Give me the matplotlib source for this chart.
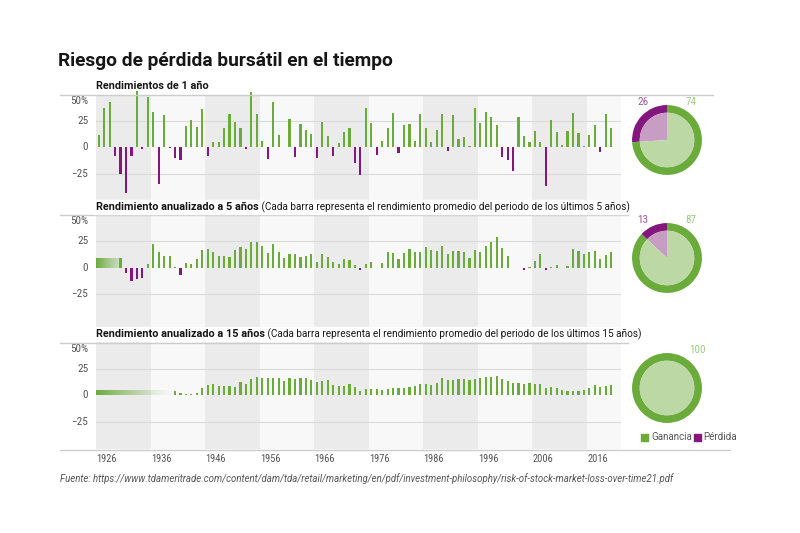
import numpy as np
import matplotlib
matplotlib.use("Agg")
import matplotlib.pyplot as plt
import matplotlib.transforms as mtransforms
from matplotlib import font_manager
from matplotlib.lines import Line2D
from matplotlib.patches import Rectangle
from matplotlib.colors import to_rgb

# data (S&P 500)
years = list(range(1926, 2021))

ret_1y = [11.6, 37.5, 43.6, -8.4, -24.9, -43.3, -8.2, 54.0, -1.4, 47.7,
          33.9, -35.0, 31.1, -0.4, -9.8, -11.6, 20.3, 25.9, 19.8, 36.4,
          -8.1, 5.7, 5.5, 18.8, 31.7, 24.0, 18.4, -1.0, 52.6, 31.6,
          6.6, -10.8, 43.4, 12.0, 0.5, 26.9, -8.7, 22.8, 16.5, 12.5,
          -10.1, 24.0, 11.1, -8.5, 4.0, 14.3, 19.0, -14.7, -26.5, 37.2,
          23.8, -7.2, 6.6, 18.4, 32.4, -4.9, 21.4, 22.5, 6.3, 32.2,
          18.5, 5.2, 16.8, 31.5, -3.1, 30.5, 7.7, 10.0, 1.3, 37.6,
          23.0, 33.4, 28.6, 21.0, -9.1, -11.9, -22.1, 28.7, 10.9, 4.9,
          15.8, 5.5, -37.0, 26.5, 15.1, 2.1, 16.0, 32.4, 13.7, 1.4,
          12.0, 21.8, -4.4, 31.5, 18.4]

# 5-year annualized, first value is 1930
ret_5y = [8.9, -5.1, -12.5, -11.2, -9.9, 3.1, 22.5, 14.3, 10.7, 10.9,
          0.5, -7.5, 4.6, 3.8, 7.7, 16.9, 17.9, 14.9, 10.9, 10.7,
          9.9, 16.7, 19.4, 17.9, 23.9, 23.9, 20.2, 13.6, 22.3, 15.0,
          8.9, 12.8, 13.3, 9.9, 10.7, 13.3, 5.7, 12.4, 10.2, 5.0,
          3.3, 8.4, 7.5, 2.0, -2.4, 3.2, 4.9, -0.2, 4.3, 14.8,
          13.9, 8.1, 14.1, 17.3, 14.8, 14.7, 19.9, 16.5, 15.4, 20.4,
          13.2, 15.4, 15.9, 14.5, 8.7, 16.6, 15.2, 20.3, 24.1, 28.6,
          18.3, 10.7, -0.6, -0.6, -2.3, 0.5, 6.2, 12.8, -2.2, 0.4,
          2.3, -0.3, 1.7, 17.9, 15.5, 12.6, 14.7, 15.8, 8.5, 11.7,
          15.2]

# 15-year annualized, first value is 1940
ret_15y = [4.0, 2.2, 1.6, 1.0, 2.2, 6.9, 10.3, 10.9, 8.7, 9.3,
           8.7, 8.4, 13.0, 10.9, 15.6, 17.8, 16.5, 16.2, 17.1, 16.5,
           14.0, 16.5, 15.6, 16.5, 16.2, 15.0, 13.1, 13.4, 14.3, 10.0,
           8.7, 9.0, 11.2, 8.4, 4.4, 6.5, 6.5, 6.5, 5.6, 6.2,
           6.9, 7.2, 7.2, 7.8, 9.0, 10.6, 10.9, 10.0, 12.1, 16.5,
           14.3, 15.0, 15.3, 15.6, 15.0, 15.3, 16.8, 17.4, 17.8, 19.0,
           15.9, 14.0, 11.8, 12.1, 11.2, 11.5, 10.9, 10.6, 6.9, 7.8,
           6.9, 5.6, 4.7, 4.7, 4.7, 5.3, 6.9, 10.0, 8.1, 9.0,
           9.7]

pie_loss = [26, 13, 0]
pie_gain = [74, 87, 100]

tick_vals = [50, 25, 0, -25]
tick_text = ["50%", "25", "0", "\u221225"]
decades = [1926, 1936, 1946, 1956, 1966, 1976, 1986, 1996, 2006, 2016]

title = "Riesgo de pérdida bursátil en el tiempo"
sub_bold = ["Rendimientos de 1 año", "Rendimiento anualizado a 5 años",
            "Rendimiento anualizado a 15 años"]
sub_rest = ["", " (Cada barra representa el rendimiento promedio del periodo de los últimos 5 años)",
            " (Cada barra representa el rendimiento promedio del periodo de los últimos 15 años)"]
source = ("Fuente: https://www.tdameritrade.com/content/dam/tda/retail/marketing/en/pdf/"
          "investment-philosophy/risk-of-stock-market-loss-over-time21.pdf")

# style
GREEN = "#6aab3c"
PURPLE = "#83177d"
LGREEN = "#bcd9a5"
LPURPLE = "#c79dc4"
BAND_DARK = "#ebebeb"
BAND_LIGHT = "#f8f8f8"
GRID = "#dadada"
TXT = "#161616"
GREY = "#555555"


def pick_font(names):
    for n in names:
        try:
            font_manager.findfont(font_manager.FontProperties(family=n),
                                  fallback_to_default=False)
            return n
        except Exception:
            pass
    return "DejaVu Sans"


NARROW = [pick_font(["Roboto Condensed", "Liberation Sans Narrow", "Roboto"]), "DejaVu Sans"]

plt.rcParams["font.family"] = ["Roboto", "DejaVu Sans"]

W, H = 800, 533
fig = plt.figure(figsize=(8, 5.33), dpi=100)
fig.patch.set_facecolor("white")


def box(x0, y0, x1, y1):
    return [x0 / W, 1 - y1 / H, (x1 - x0) / W, (y1 - y0) / H]


def hline(y, x0, x1):
    fig.add_artist(Line2D([x0 / W, x1 / W], [1 - y / H, 1 - y / H], color="#cccccc", lw=1))


XMIN, XMAX = 1925.5, 2021.8

ax1 = fig.add_axes(box(96, 95, 621, 200))
ax2 = fig.add_axes(box(96, 215, 621, 343))
ax3 = fig.add_axes(box(96, 343, 621, 449))
ylims = [(-50, 50), (-71.9, 50), (-51, 50)]


def gradient_bar(ax, x0, x1, h, fade):
    n = 300
    rgba = np.zeros((1, n, 4))
    rgba[..., :3] = to_rgb(GREEN)
    rgba[0, :, 3] = np.linspace(1.0, fade, n) ** 1.3
    ax.imshow(rgba, extent=[x0, x1, 0, h], aspect="auto", zorder=3,
              interpolation="bilinear")


series = [(years, ret_1y), (years[4:], ret_5y), (years[14:], ret_15y)]

for i, ax in enumerate([ax1, ax2, ax3]):
    yrs, vals = series[i]
    for d in range(10):
        x0 = 1925.5 + 10 * d
        ax.axvspan(x0, x0 + 10, color=BAND_DARK if d % 2 == 0 else BAND_LIGHT, lw=0, zorder=0)
    for g in [25, -25]:
        ax.axhline(g, color=GRID, lw=0.8, zorder=1)
    cols = [GREEN if v >= 0 else PURPLE for v in vals]
    ax.bar(yrs, vals, width=0.4, color=cols, zorder=3, clip_on=False)
    if i == 1:
        gradient_bar(ax, XMIN, yrs[0] - 0.3, vals[0], 0.35)
    if i == 2:
        gradient_bar(ax, XMIN, yrs[0] - 0.5, vals[0], 0.0)
    ax.set_xlim(XMIN, XMAX)
    ax.set_ylim(*ylims[i])
    for s in ax.spines.values():
        s.set_visible(False)
    ax.set_xticks([])
    ax.set_yticks([])
    tr = mtransforms.blended_transform_factory(ax.transAxes, ax.transData)
    for v, t in zip(tick_vals, tick_text):
        yy = 44 if v == 50 else v
        ax.text(-0.015, yy, t, transform=tr, ha="right", va="center",
                fontsize=8, color=GREY, family=NARROW)

# decade labels under the last panel
trx = mtransforms.blended_transform_factory(ax3.transData, ax3.transAxes)
for dcd in decades:
    ax3.text(dcd - 0.4, -0.09, str(dcd), transform=trx, ha="left", va="center",
             fontsize=7.5, color=GREY, family=NARROW)

# separator lines
hline(95, 60, 713)
hline(215, 60, 628)
hline(343, 60, 628)
hline(449.5, 60, 730)

# titles
fig.text(58 / W, 1 - 61 / H, title, fontsize=13.8, fontweight="bold", color=TXT,
         ha="left", va="center")
fig.canvas.draw()
for k, y in enumerate([86, 207, 334]):
    t = fig.text(96 / W, 1 - y / H, sub_bold[k], fontsize=7.8, fontweight="bold",
                 color=TXT, ha="left", va="center")
    if sub_rest[k]:
        bb = t.get_window_extent(renderer=fig.canvas.get_renderer())
        r = fig.text(bb.x1 / W, 1 - y / H, sub_rest[k], fontsize=7.2, color=TXT,
                     ha="left", va="center")
        rb = r.get_window_extent(renderer=fig.canvas.get_renderer())
        fig.add_artist(Rectangle((bb.x0 / W - 0.002, bb.y0 / H - 0.004),
                                 (rb.x1 - bb.x0) / W + 0.004, (bb.y1 - bb.y0) / H + 0.008,
                                 transform=fig.transFigure, color="white", zorder=2))
        t.set_zorder(3)
        r.set_zorder(3)

# pies
centers = [140, 258, 388]
for k, cy in enumerate(centers):
    cx = 667
    pax = fig.add_axes(box(cx - 36, cy - 36, cx + 36, cy + 36))
    vals = [pie_loss[k], pie_gain[k]]
    pax.pie(vals, colors=[PURPLE, GREEN], radius=1.0, startangle=90, counterclock=True,
            wedgeprops=dict(width=0.22, edgecolor="none"))
    pax.pie(vals, colors=[LPURPLE, LGREEN], radius=0.78, startangle=90, counterclock=True,
            wedgeprops=dict(edgecolor="none"))
    pax.set_xlim(-1.03, 1.03)
    pax.set_ylim(-1.03, 1.03)
    pax.set_aspect("equal")
    ly = 1 - (cy - 38) / H
    if pie_loss[k] > 0:
        fig.text((cx - 24) / W, ly, str(pie_loss[k]), fontsize=8, color="#a0559c",
                 ha="center", va="center", family=NARROW)
        fig.text((cx + 24) / W, ly, str(pie_gain[k]), fontsize=8, color="#9ccb7e",
                 ha="center", va="center", family=NARROW)
    else:
        fig.text((cx + 30) / W, ly, str(pie_gain[k]), fontsize=8, color="#9ccb7e",
                 ha="center", va="center", family=NARROW)

# legend
fig.add_artist(Rectangle((641 / W, 1 - 441 / H), 7 / W, 7 / H, color=GREEN,
                         transform=fig.transFigure))
fig.text(651 / W, 1 - 437 / H, "Ganancia", fontsize=7, color=GREY, ha="left", va="center")
fig.add_artist(Rectangle((694 / W, 1 - 441 / H), 7 / W, 7 / H, color=PURPLE,
                         transform=fig.transFigure))
fig.text(703 / W, 1 - 437 / H, "Pérdida", fontsize=7, color=GREY, ha="left", va="center")

# source
fig.text(60 / W, 1 - 479 / H, source, fontsize=6.9, style="italic", color=GREY,
         ha="left", va="center")

fig.savefig("out.png", dpi=100, facecolor="white")
